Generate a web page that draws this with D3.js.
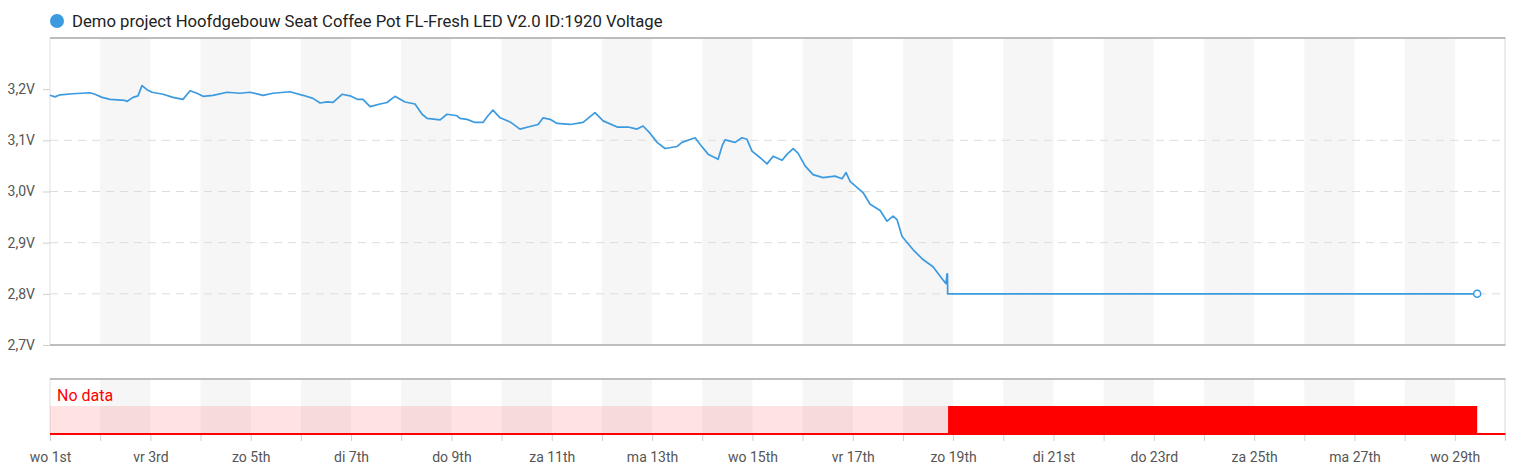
<!DOCTYPE html>
<html>
<head>
<meta charset="utf-8">
<script src="https://cdn.jsdelivr.net/npm/d3@7"></script>
<style>
  body { margin: 0; background: #fff; font-family: Roboto, "Noto Sans", sans-serif; }
</style>
</head>
<body>
<div id="chart"></div>
<script>
var title = 'Demo project Hoofdgebouw Seat Coffee Pot FL-Fresh LED V2.0 ID:1920 Voltage';

// hours since wo 1st 00:00, voltage
var hours = [0, 2.4, 4.8, 11.0, 19.1, 21.5, 24.9, 28.7, 35.9, 36.8, 39.7, 42.1, 44.0, 46.4, 48.8,
  54.1, 58.8, 63.6, 67.0, 70.3, 73.2, 78.0, 84.7, 90.9, 95.7, 101.9, 106.7, 114.8, 121.0, 125.8,
  129.2, 132.5, 135.4, 139.7, 143.5, 147.3, 149.7, 153.1, 157.9, 161.2, 165.0, 169.8, 174.6, 178.0,
  180.4, 186.6, 189.9, 194.7, 196.1, 199.5, 203.3, 207.1, 209.5, 211.9, 215.3, 220.1, 224.8, 229.6,
  233.5, 235.9, 239.2, 242.6, 248.8, 255.0, 260.7, 264.6, 271.3, 276.5, 280.8, 283.7, 287.0, 290.4,
  294.2, 300.0, 302.3, 308.6, 311.0, 314.8, 319.6, 321.5, 322.9, 327.7, 331.0, 333.4, 335.8, 339.7,
  343.0, 345.9, 350.2, 352.6, 355.5, 357.8, 361.2, 365.0, 369.8, 375.5, 378.9, 380.8, 382.7, 388.9,
  392.3, 397.1, 400.4, 403.3, 405.2, 407.6, 412.9, 417.6, 422.4, 427.2, 428.6, 429.1, 429.3, 429.4, 682.7];
var volts = [3.188, 3.185, 3.189, 3.191, 3.193, 3.190, 3.184, 3.180, 3.178, 3.176, 3.184, 3.187, 3.207, 3.199, 3.194,
  3.190, 3.184, 3.180, 3.197, 3.192, 3.186, 3.188, 3.194, 3.192, 3.194, 3.188, 3.192, 3.195, 3.188, 3.182,
  3.173, 3.175, 3.174, 3.190, 3.187, 3.180, 3.180, 3.166, 3.171, 3.174, 3.186, 3.175, 3.171, 3.151,
  3.143, 3.140, 3.151, 3.148, 3.143, 3.141, 3.135, 3.135, 3.148, 3.159, 3.144, 3.136, 3.122, 3.127,
  3.131, 3.144, 3.141, 3.133, 3.131, 3.135, 3.154, 3.138, 3.126, 3.126, 3.122, 3.128, 3.114, 3.096,
  3.084, 3.088, 3.096, 3.105, 3.092, 3.073, 3.063, 3.089, 3.101, 3.096, 3.105, 3.102, 3.079, 3.066,
  3.054, 3.069, 3.061, 3.073, 3.084, 3.075, 3.050, 3.033, 3.027, 3.030, 3.025, 3.037, 3.020, 2.998,
  2.975, 2.963, 2.942, 2.952, 2.945, 2.912, 2.886, 2.867, 2.853, 2.827, 2.820, 2.839, 2.839, 2.800, 2.800];

// status lane: periods in hours, second one is the "No data" stretch
var statusFrom = [0, 429.6];
var statusTo = [429.6, 682.7];
var statusMissing = [false, true];

var yTicks = [2.7, 2.8, 2.9, 3.0, 3.1, 3.2];
var gridVolts = [2.8, 2.9, 3.0, 3.1];
var dayLabels = ['wo 1st', 'vr 3rd', 'zo 5th', 'di 7th', 'do 9th', 'za 11th', 'ma 13th', 'wo 15th',
  'vr 17th', 'zo 19th', 'di 21st', 'do 23rd', 'za 25th', 'ma 27th', 'wo 29th'];

var width = 1530, height = 475,
    plotLeft = 50, plotRight = 1505,
    plotTop = 38, mainBottom = 345,
    subTop = 379, subBottom = 434, barTop = 406,
    blue = '#3b9ae0';

var start = new Date(Date.UTC(2023, 10, 1));
function at(h) { return new Date(+start + h * 36e5); }

var svg = d3.select('#chart').append('svg')
  .attr('width', width)
  .attr('height', height)
  .style('font-family', 'Roboto, "Noto Sans", sans-serif');

var x = d3.scaleUtc()
  .domain([start, d3.utcDay.offset(start, 29)])
  .range([plotLeft, plotRight]);

var y = d3.scaleLinear()
  .domain([2.7, 3.3])
  .range([mainBottom, plotTop]);

var yStatus = d3.scaleLinear()
  .domain([0, 1])
  .range([subBottom, barTop]);

var days = d3.utcDay.range(start, d3.utcDay.offset(start, 30));

// title
svg.append('circle')
  .attr('cx', 57).attr('cy', 21).attr('r', 7)
  .attr('fill', blue);
svg.append('text')
  .attr('x', 72).attr('y', 27)
  .attr('font-size', 16.7)
  .attr('fill', '#222')
  .text(title);

// alternating day bands in both panels
var bandDays = days.filter(function(d, i) { return i % 2 == 1 && i < 29; });
[[plotTop, mainBottom], [subTop, subBottom]].forEach(function(p) {
  svg.append('g').selectAll('rect')
    .data(bandDays)
    .enter().append('rect')
    .attr('x', function(d) { return x(d); })
    .attr('y', p[0])
    .attr('width', function(d) { return x(d3.utcDay.offset(d, 1)) - x(d); })
    .attr('height', p[1] - p[0])
    .attr('fill', '#f6f6f6');
});

// grid
svg.append('g').selectAll('line')
  .data(gridVolts)
  .enter().append('line')
  .attr('x1', plotLeft).attr('x2', plotRight)
  .attr('y1', function(d) { return y(d); })
  .attr('y2', function(d) { return y(d); })
  .attr('stroke', '#dcdcdc')
  .attr('stroke-dasharray', '8,6');

// frames
function frame(t, b) {
  svg.append('line').attr('x1', plotLeft).attr('x2', plotLeft).attr('y1', t).attr('y2', b)
    .attr('stroke', '#e0e0e0');
  svg.append('line').attr('x1', plotRight).attr('x2', plotRight).attr('y1', t).attr('y2', b)
    .attr('stroke', '#dadada');
  svg.append('line').attr('x1', plotLeft).attr('x2', plotRight + 0.5).attr('y1', t).attr('y2', t)
    .attr('stroke', '#bdbdbd').attr('stroke-width', 2);
}
frame(plotTop, mainBottom);
frame(subTop, subBottom);
svg.append('line').attr('x1', plotLeft).attr('x2', plotRight + 0.5)
  .attr('y1', mainBottom).attr('y2', mainBottom)
  .attr('stroke', '#bdbdbd').attr('stroke-width', 2);

// y axis
var yAxis = svg.append('g')
  .attr('transform', 'translate(' + plotLeft + ',0)')
  .call(d3.axisLeft(y)
    .tickValues(yTicks)
    .tickSize(7)
    .tickPadding(8)
    .tickFormat(function(v) { return d3.format('.1f')(v).replace('.', ',') + 'V'; }));
yAxis.select('.domain').remove();
yAxis.selectAll('line').attr('stroke', '#cfcfcf');
yAxis.selectAll('text').attr('font-size', 14).attr('fill', '#555')
  .style('font-family', 'Roboto, "Noto Sans", sans-serif');

// voltage line
var points = hours.map(function(h, i) { return { t: at(h), v: volts[i] }; });
var line = d3.line()
  .x(function(d) { return x(d.t); })
  .y(function(d) { return y(d.v); });

svg.append('path')
  .datum(points)
  .attr('d', line)
  .attr('fill', 'none')
  .attr('stroke', blue)
  .attr('stroke-width', 1.7)
  .attr('stroke-linejoin', 'round');

var last = points[points.length - 1];
svg.append('circle')
  .attr('cx', x(last.t)).attr('cy', y(last.v)).attr('r', 3.5)
  .attr('fill', '#fff')
  .attr('stroke', blue)
  .attr('stroke-width', 1.5);

// status lane
svg.append('g').selectAll('rect')
  .data(statusFrom)
  .enter().append('rect')
  .attr('x', function(d) { return x(at(d)); })
  .attr('y', yStatus(1))
  .attr('width', function(d, i) { return x(at(statusTo[i])) - x(at(d)); })
  .attr('height', yStatus(0) - yStatus(1))
  .attr('fill', function(d, i) { return statusMissing[i] ? '#ff0000' : 'rgba(255,0,0,0.11)'; });

svg.append('line')
  .attr('x1', plotLeft).attr('x2', plotRight + 0.5)
  .attr('y1', subBottom).attr('y2', subBottom)
  .attr('stroke', '#ff0000').attr('stroke-width', 2);

svg.append('text')
  .attr('x', 57).attr('y', 401)
  .attr('font-size', 16)
  .attr('fill', '#ff0000')
  .text('No data');

// x axis
var xAxis = svg.append('g')
  .attr('transform', 'translate(0,' + (subBottom + 1) + ')')
  .call(d3.axisBottom(x)
    .tickValues(days)
    .tickSize(6)
    .tickFormat(function(d, i) { return i % 2 == 0 ? dayLabels[i / 2] : ''; }));
xAxis.select('.domain').remove();
xAxis.selectAll('line').attr('stroke', '#d0d0d0');
xAxis.selectAll('text')
  .attr('y', 17)
  .attr('font-size', 14).attr('fill', '#555')
  .style('font-family', 'Roboto, "Noto Sans", sans-serif');
</script>
</body>
</html>
